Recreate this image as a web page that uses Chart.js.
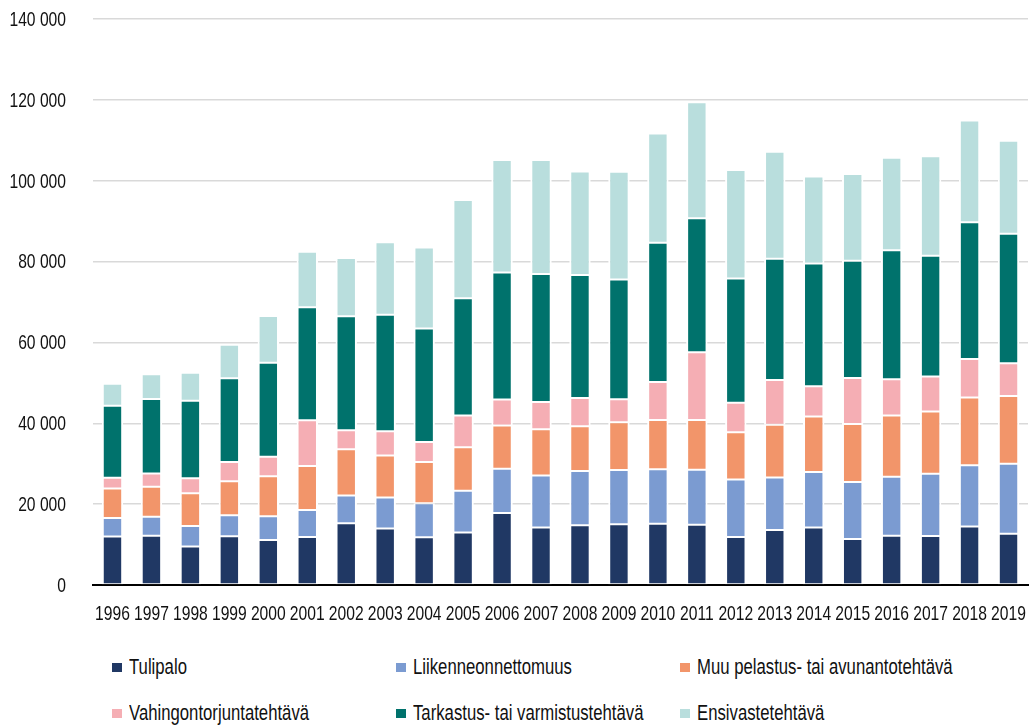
<!DOCTYPE html>
<html lang="fi">
<head>
<meta charset="utf-8">
<title>Tehtävät 1996–2019</title>
<script src="https://cdn.jsdelivr.net/npm/chart.js@4.4.1/dist/chart.umd.min.js"></script>
<style>
  html, body { margin: 0; padding: 0; background: #fff; }
  #wrap { position: relative; width: 1030px; height: 726px; }
  #chart { position: absolute; left: 0; top: 0; }
  .lg-item { position: absolute; display: flex; align-items: center; white-space: nowrap;
    font-family: "Liberation Sans", Arial, sans-serif; font-size: 22px; color: #111;
    transform: translateY(-50%); }
  .lg-box { width: 10px; height: 9px; margin-right: 7px; flex-shrink: 0; }
  .lg-text { display: inline-block; transform: scaleX(0.76); transform-origin: 0 50%; }
</style>
</head>
<body>
<div id="wrap">
  <canvas id="chart" width="1030" height="640"></canvas>
  <div id="legend"></div>
</div>
<script>
// ── DATA ──────────────────────────────────────────
const years = ['1996','1997','1998','1999','2000','2001','2002','2003','2004','2005','2006','2007',
               '2008','2009','2010','2011','2012','2013','2014','2015','2016','2017','2018','2019'];

const tulipalo      = [12000,12200, 9550,12050,11150,11850,15250,14000,11800,13000,17800,14250,
                       14750,15000,15150,14900,11850,13600,14250,11400,12200,12100,14500,12700];
const liikenne      = [ 4600, 4700, 5050, 5200, 5850, 6700, 6900, 7650, 8400,10300,10950,12850,
                       13450,13450,13450,13600,14250,13000,13700,14100,14600,15400,15100,17300];
const muuPelastus   = [ 7250, 7400, 8100, 8400, 9900,10900,11450,10400,10200,10800,10700,11400,
                       11050,11800,12200,12300,11700,13050,13700,14350,15100,15400,16800,16750];
const vahingontorj  = [ 2700, 3300, 3700, 4800, 4800,11300, 4700, 5950, 4950, 7850, 6450, 6750,
                        7000, 5700, 9400,16750, 7250,11050, 7500,11350, 9000, 8650, 9500, 8100];
const tarkastus     = [17800,18400,19200,20700,23300,27950,28200,28850,28100,29000,31400,31650,
                       30400,29600,34450,33150,30750,30000,30400,29000,31900,29900,33800,32050];
const ensivaste     = [ 5450, 6100, 6900, 8250,11550,13750,14400,17950,20050,24300,27800,28200,
                       25650,26650,27050,28700,26850,26450,21500,21450,22850,24600,25200,23000];

const seriesNames  = ['Tulipalo','Liikenneonnettomuus','Muu pelastus- tai avunantotehtävä',
                      'Vahingontorjuntatehtävä','Tarkastus- tai varmistustehtävä','Ensivastetehtävä'];
const seriesData   = [tulipalo, liikenne, muuPelastus, vahingontorj, tarkastus, ensivaste];
const seriesColors = ['#203864','#7b9bd1','#f2956a','#f5aeb4','#00726c','#b9dedd'];

const TICK_FONT = '21px "Liberation Sans", Arial, sans-serif';
const SQUEEZE = 0.745;   // the original uses a condensed face; squeeze a regular one to match

function fmt(v) {
  return String(v).replace(/\B(?=(\d{3})+(?!\d))/g, ' ');
}

// tick labels drawn condensed, positions still come from the scales
const condensedTicks = {
  id: 'condensedTicks',
  afterDraw(chart) {
    const ctx = chart.ctx;
    const {x, y} = chart.scales;
    ctx.save();
    ctx.font = TICK_FONT;
    ctx.fillStyle = '#111111';
    ctx.textBaseline = 'middle';

    ctx.textAlign = 'center';
    x.ticks.forEach((t, i) => {
      ctx.save();
      ctx.translate(x.getPixelForTick(i), chart.chartArea.bottom + 29);
      ctx.scale(SQUEEZE, 1);
      ctx.fillText(years[i], 0, 0);
      ctx.restore();
    });

    ctx.textAlign = 'right';
    y.ticks.forEach((t, i) => {
      ctx.save();
      ctx.translate(chart.chartArea.left - 27, y.getPixelForTick(i) + 1);
      ctx.scale(SQUEEZE, 1);
      ctx.fillText(fmt(t.value), 0, 0);
      ctx.restore();
    });
    ctx.restore();
  }
};

const chart = new Chart(document.getElementById('chart'), {
  type: 'bar',
  data: {
    labels: years,
    datasets: seriesData.map((d, i) => ({
      label: seriesNames[i],
      data: d,
      backgroundColor: seriesColors[i],
      borderColor: '#ffffff',
      borderWidth: {top: 1, bottom: 1, left: 2, right: 2},
      borderSkipped: false,
      categoryPercentage: 1,
      barPercentage: 0.55
    }))
  },
  options: {
    responsive: false,
    animation: false,
    layout: {padding: {top: 19, right: 2, left: 0, bottom: 0}},
    plugins: {legend: {display: false}, tooltip: {enabled: false}},
    scales: {
      x: {
        stacked: true,
        z: 1,
        grid: {display: false, drawTicks: false},
        border: {display: true, color: '#000000', width: 2},
        ticks: {display: false, autoSkip: false},
        afterFit: s => { s.height = 55; }
      },
      y: {
        stacked: true,
        min: 0, max: 140000,
        grid: {color: ctx => ctx.tick && ctx.tick.value === 0 ? 'rgba(0,0,0,0)' : '#d9d9d9',
               lineWidth: 1.5, drawTicks: false},
        border: {display: false},
        ticks: {display: false, stepSize: 20000},
        afterFit: s => { s.width = 93; }
      }
    }
  },
  plugins: [condensedTicks]
});

// ── LEGEND (3 columns × 2 rows, like the original) ──
const legendCols = [112, 396, 680];
const legendRows = [667, 713];
document.getElementById('legend').innerHTML = chart.data.datasets.map((ds, i) => `
  <div class="lg-item" style="left:${legendCols[i % 3]}px;top:${legendRows[Math.floor(i / 3)]}px">
    <span class="lg-box" style="background:${ds.backgroundColor}"></span><span class="lg-text">${ds.label}</span>
  </div>`).join('');
</script>
</body>
</html>
